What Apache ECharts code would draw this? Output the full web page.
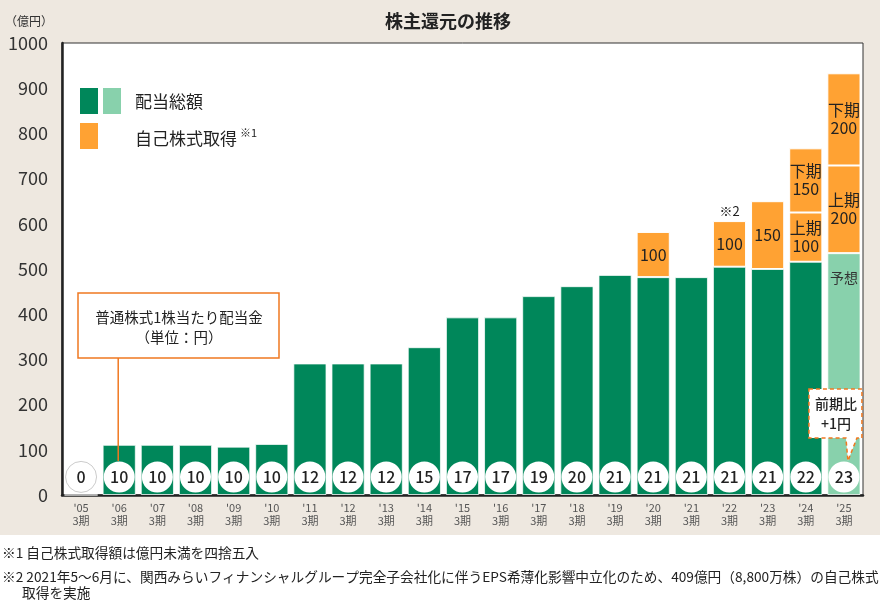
<!DOCTYPE html>
<html><head><meta charset="utf-8">
<script src="https://cdn.jsdelivr.net/npm/echarts@6/dist/echarts.min.js"></script>
<style>html,body{margin:0;padding:0;background:#fff}#c{width:880px;height:602px}</style>
</head><body><div id="c"></div>
<script>
// ---- data ----
const years = ['05','06','07','08','09','10','11','12','13','14','15','16','17','18','19','20','21','22','23','24','25'];
const dividendTotal = [0,111,111,111,107,113,291,291,291,327,393,393,440,462,487,482,482,505,500,516,535];
const buybackFirst  = [null,null,null,null,null,null,null,null,null,null,null,null,null,null,null,100,null,101,150,109,194];
const buybackSecond = [null,null,null,null,null,null,null,null,null,null,null,null,null,null,null,null,null,null,null,142,204];
const buybackFirstLabels  = ['','','','','','','','','','','','','','','','100','','100','150','上期\n100','上期\n200'];
const buybackSecondLabels = ['','','','','','','','','','','','','','','','','','','','下期\n150','下期\n200'];
const dividendPerShare = [0,10,10,10,10,10,12,12,12,15,17,17,19,20,21,21,21,21,21,22,23];
const forecastIndex = 20;

const FONT = '"Noto Sans CJK JP", "Noto Sans", sans-serif';
const DARK = '#00875A', LIGHT = '#88D1AC', ORANGE = '#FFA233', LINEOR = '#F07820';

const chart = echarts.init(document.getElementById('c'), null, {renderer:'canvas'});
const cats = years.map(y => "'" + y + "\n3期");

const option = {
  backgroundColor: '#EEE8E0',
  animation: false,
  textStyle: {fontFamily: FONT},
  grid: {left:62, right:17, top:43, bottom:107, show:true, backgroundColor:'#fff', borderColor:'#333', borderWidth:1},
  xAxis: {
    type:'category', data:cats,
    axisLine:{lineStyle:{color:'#222', width:2.5}},
    axisTick:{show:false},
    axisLabel:{interval:0, fontSize:11, color:'#555', lineHeight:13, margin:6, fontFamily:FONT}
  },
  yAxis: {
    type:'value', min:0, max:1000, interval:100,
    axisLine:{show:true, lineStyle:{color:'#222', width:2.5}},
    axisTick:{show:false}, splitLine:{show:false},
    axisLabel:{fontSize:18, color:'#333', margin:14, fontFamily:FONT, formatter: v => String(v)}
  },
  series: [
    {
      name:'配当総額', type:'bar', stack:'a', barCategoryGap:'13%',
      itemStyle:{color:DARK, borderColor:'rgba(255,255,255,0.75)', borderWidth:1},
      data: dividendTotal.map((v,i) => i === forecastIndex ? {
        value:v, itemStyle:{color:LIGHT},
        label:{show:true, position:'insideTop', distance:18, formatter:'予想', fontSize:14, color:'#333', fontFamily:FONT}
      } : v)
    },
    {
      name:'自己株式取得1', type:'bar', stack:'a',
      itemStyle:{color:ORANGE, borderColor:'#fff', borderWidth:1},
      label:{show:true, position:'inside', fontSize:16, lineHeight:18, color:'#222', fontFamily:FONT,
             formatter: p => buybackFirstLabels[p.dataIndex]},
      data: buybackFirst
    },
    {
      name:'自己株式取得2', type:'bar', stack:'a',
      itemStyle:{color:ORANGE, borderColor:'#fff', borderWidth:1},
      label:{show:true, position:'inside', fontSize:16, lineHeight:18, color:'#222', fontFamily:FONT,
             formatter: p => buybackSecondLabels[p.dataIndex]},
      data: buybackSecond
    },
    {
      name:'1株当たり配当金', type:'scatter', symbol:'circle', symbolSize:31, z:5,
      itemStyle:{color:'#fff', opacity:1},
      label:{show:true, position:'inside', fontSize:16, fontWeight:500, color:'#222', fontFamily:FONT,
             formatter: p => String(dividendPerShare[p.dataIndex])},
      data: dividendPerShare.map((v,i) => i === 0 ? {value:[i,40], itemStyle:{borderColor:'#ccc', borderWidth:1}} : [i,40])
    }
  ]
};
chart.setOption(option);

// ---- annotations ----
const px = (i, v) => chart.convertToPixel({gridIndex:0}, [i, v]);
const c06 = px(1, 40);
const c25 = px(20, 40);
const b22 = px(17, dividendTotal[17] + buybackFirst[17]);
const tc = (text, x, y, size, weight) => ({type:'text', z:20, style:{text, x, y, font:(weight?weight+' ':'')+size+'px '+FONT, fill:'#222', align:'center', verticalAlign:'middle'}});
const tl = (text, x, y, size, fill) => ({type:'text', z:20, style:{text, x, y, font:size+'px '+FONT, fill:fill||'#222', align:'left', verticalAlign:'middle'}});

const cx = c25[0];
const tipY = c25[1] - 16;
const graphics = [
  {type:'rect', z:-1, shape:{x:0, y:535, width:880, height:67}, style:{fill:'#fff'}},
  tc('株主還元の推移', 448, 21, 18, 'bold'),
  tl('（億円）', 5, 21, 12, '#333'),
  // legend
  {type:'rect', z:20, shape:{x:80, y:88, width:18, height:26}, style:{fill:DARK}},
  {type:'rect', z:20, shape:{x:103, y:88, width:18, height:26}, style:{fill:LIGHT}},
  tl('配当総額', 135, 102, 17),
  {type:'rect', z:20, shape:{x:80, y:123, width:18, height:26}, style:{fill:ORANGE}},
  tl('自己株式取得', 135, 139, 17),
  tl('※1', 240, 133, 11),
  // per-share box
  {type:'rect', z:20, shape:{x:78, y:293, width:201, height:65}, style:{fill:'#fff', stroke:LINEOR, lineWidth:1.5}},
  tc('普通株式1株当たり配当金', 179, 317, 14.5),
  tc('（単位：円）', 179, 337, 14.5),
  {type:'line', z:20, shape:{x1:c06[0]-1, y1:358, x2:c06[0]-1, y2:c06[1]-16}, style:{stroke:LINEOR, lineWidth:1.5}},
  // ※2
  tc('※2', b22[0], b22[1] - 10, 13),
  // callout
  {type:'polygon', z:20, shape:{points:[[cx-35,389],[cx+18,389],[cx+18,438],[cx+13,438],[cx+4,tipY],[cx+2,438],[cx-35,438]]},
   style:{fill:'#fff', stroke:LINEOR, lineWidth:1.5, lineDash:[4,3]}},
  tc('前期比', cx-8, 404, 14, 500),
  tc('+1円', cx-8, 424, 14, 500),
  // footnotes
  tl('※1 自己株式取得額は億円未満を四捨五入', 2, 553, 13.7),
  tl('※2 2021年5～6月に、関西みらいフィナンシャルグループ完全子会社化に伴うEPS希薄化影響中立化のため、409億円（8,800万株）の自己株式', 2, 577, 13.7),
  tl('取得を実施', 22, 593, 13.7)
];
chart.setOption({graphic: graphics});
</script></body></html>
